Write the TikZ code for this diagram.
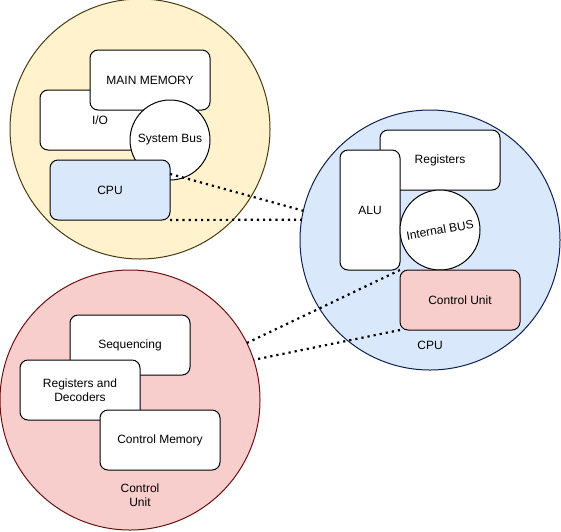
\documentclass[tikz,border=0pt]{standalone}
\usepackage{fontspec}
\setmainfont{Liberation Sans}
\definecolor{sysfill}{HTML}{FFF2CC}
\definecolor{sysline}{HTML}{4A3A10}
\definecolor{cpufill}{HTML}{DAE8FC}
\definecolor{cpuline}{HTML}{10204F}
\definecolor{cufill}{HTML}{F8CECC}
\definecolor{culine}{HTML}{6B1010}
\begin{document}
\begin{tikzpicture}
[x=1pt,y=-1pt,font=\fontsize{12}{14}\selectfont,%
 ringstyle/.style={circle,draw,line width=1pt,minimum size=260pt,inner sep=0pt,outer sep=0pt},%
 boxstyle/.style={rectangle,rounded corners=8pt,draw,line width=1pt,fill=white,%
   minimum width=120pt,minimum height=60pt,inner sep=0pt,outer sep=0pt,align=center},%
 busstyle/.style={circle,draw,line width=1pt,fill=white,minimum size=80pt,inner sep=0pt,outer sep=0pt},%
 linkstyle/.style={line width=2.2pt,dash pattern=on 2.2pt off 4pt}]
\useasboundingbox (0,0) rectangle (561,531);
%% the three big circles
\node[ringstyle,draw=sysline,fill=sysfill] (sysring) at (140,129) {};
\node[ringstyle,draw=cpuline,fill=cpufill] (cpuring) at (430,240) {};
\node[ringstyle,draw=culine,fill=cufill] (curing) at (130,400) {};
%% computer system
\node[boxstyle] (io) at (100,120) {I/O};
\node[boxstyle] (mainmem) at (150,80) {MAIN MEMORY};
\node[busstyle] (sysbus) at (170,140) {System Bus};
\node[boxstyle,fill=cpufill] (cpu) at (110,190) {CPU};
%% inside the cpu
\node[boxstyle] (registers) at (440,160) {Registers};
\node[boxstyle,minimum width=60pt,minimum height=120pt] (alu) at (370,210) {ALU};
\node[busstyle] (intbus) at (440,230) {};
\node[rotate=10] at (intbus) {Internal BUS};
\node[boxstyle,fill=cufill,draw=black!80!culine] (cu) at (460,300) {Control Unit};
\node (cpulabel) at (430,345) {CPU};
%% inside the control unit
\node[boxstyle] (seq) at (130,345) {Sequencing};
\node[boxstyle] (regdec) at (80,390) {Registers and\\Decoders};
\node[boxstyle] (ctrlmem) at (160,440) {Control Memory};
\node[align=center] (culabel) at (140,495) {Control\\Unit};
%% dotted links
\draw[linkstyle] (cpu.15) -- (cpuring.167);
\draw[linkstyle] (cpu.south east) -- (cpuring.171);
\draw[linkstyle] (cu.north west) -- (curing.26);
\draw[linkstyle] (cu.south west) -- (curing.18);
\end{tikzpicture}
\end{document}
